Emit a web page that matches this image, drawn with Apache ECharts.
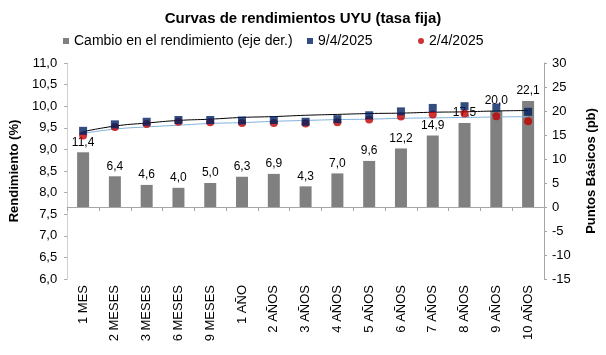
<!DOCTYPE html>
<html><head><meta charset="utf-8">
<script src="https://cdn.jsdelivr.net/npm/echarts@6/dist/echarts.min.js"></script>
<style>html,body{margin:0;padding:0;background:#fff}#c{width:606px;height:355px}</style>
</head><body><div id="c"></div>
<script>
var categories = ['1 MES','2 MESES','3 MESES','6 MESES','9 MESES','1 AÑO','2 AÑOS','3 AÑOS','4 AÑOS','5 AÑOS','6 AÑOS','7 AÑOS','8 AÑOS','9 AÑOS','10 AÑOS'];
var cambio = [11.4, 6.4, 4.6, 4.0, 5.0, 6.3, 6.9, 4.3, 7.0, 9.6, 12.2, 14.9, 17.5, 20.0, 22.1];
var curva0904 = [9.43, 9.58, 9.64, 9.68, 9.68, 9.67, 9.68, 9.64, 9.70, 9.79, 9.88, 9.96, 10.00, 9.97, 9.87];
var curva0204 = [9.32, 9.52, 9.59, 9.64, 9.63, 9.61, 9.61, 9.60, 9.63, 9.69, 9.76, 9.81, 9.83, 9.77, 9.65];
var tend0904 = [9.41, 9.54, 9.61, 9.67, 9.70, 9.74, 9.76, 9.79, 9.81, 9.83, 9.84, 9.86, 9.87, 9.89, 9.90];
var tend0204 = [9.37, 9.47, 9.52, 9.56, 9.60, 9.62, 9.65, 9.67, 9.69, 9.70, 9.72, 9.73, 9.74, 9.75, 9.76];

var F = 'Liberation Sans, Arial, sans-serif';
var chart = echarts.init(document.getElementById('c'), null, {renderer:'canvas'});
function fmt(v){ return v.toFixed(1).replace('.', ','); }
var legText = {fontFamily:F, fontSize:14, color:'#000'};
chart.setOption({
  animation:false,
  title:{text:'Curvas de rendimientos UYU (tasa fija)', left:'center', top:6,
    textStyle:{fontFamily:F, fontSize:15, fontWeight:'bold', color:'#000'}},
  legend:[
    {data:[{name:'Cambio en el rendimiento (eje der.)', icon:'rect'}], left:58, top:29, itemWidth:6, itemHeight:6, textStyle:legText},
    {data:[{name:'9/4/2025', icon:'rect'}], left:302, top:29, itemWidth:6, itemHeight:6, textStyle:legText},
    {data:[{name:'2/4/2025', icon:'circle'}], left:413, top:29, itemWidth:6, itemHeight:6, textStyle:legText}
  ],
  grid:{left:61, right:56, top:63, bottom:76},
  xAxis:{type:'category', data:categories, boundaryGap:true,
    axisLine:{lineStyle:{color:'#A6A6A6'}},
    axisTick:{show:true, alignWithLabel:false, length:4, lineStyle:{color:'#A6A6A6'}},
    axisLabel:{rotate:90, margin:6, fontFamily:F, fontSize:13, color:'#000', interval:0}},
  yAxis:[
    {type:'value', min:6, max:11, interval:0.5, position:'left',
     name:'Rendimiento (%)', nameLocation:'middle', nameRotate:90, nameGap:41,
     nameTextStyle:{fontFamily:F, fontSize:13, fontWeight:'bold', color:'#000'},
     axisLine:{show:true, lineStyle:{color:'#D0D0D0'}},
     axisTick:{show:true, length:3, lineStyle:{color:'#A6A6A6'}},
     splitLine:{show:false},
     axisLabel:{formatter:fmt, margin:10, fontFamily:F, fontSize:13, color:'#000'}},
    {type:'value', min:-15, max:30, interval:5, position:'right',
     name:'Puntos Básicos (pb)', nameLocation:'middle', nameRotate:90, nameGap:41,
     nameTextStyle:{fontFamily:F, fontSize:13, fontWeight:'bold', color:'#000'},
     axisLine:{show:true, lineStyle:{color:'#A6A6A6'}},
     axisTick:{show:true, length:3, lineStyle:{color:'#A6A6A6'}},
     splitLine:{show:false},
     axisLabel:{margin:8, fontFamily:F, fontSize:13, color:'#000'}}
  ],
  series:[
    {name:'Cambio en el rendimiento (eje der.)', type:'bar', yAxisIndex:1, data:cambio, barWidth:12,
     itemStyle:{color:'#808080'},
     label:{show:true, position:'top', distance:4, formatter:function(p){return fmt(p.value);}, fontFamily:F, fontSize:12, color:'#000'}},
    {name:'tend9', type:'line', data:tend0904, smooth:true, symbol:'none', lineStyle:{color:'#000', width:1}, z:3},
    {name:'tend2', type:'line', data:tend0204, smooth:true, symbol:'none', lineStyle:{color:'#7EB0D8', width:1}, z:3},
    {name:'9/4/2025', type:'scatter', data:curva0904, symbol:'rect', symbolSize:8, itemStyle:{color:'#002060'}, z:5},
    {name:'2/4/2025', type:'scatter', data:curva0204, symbol:'circle', symbolSize:8, itemStyle:{color:'#C00000'}, z:4}
  ]
});
</script></body></html>
